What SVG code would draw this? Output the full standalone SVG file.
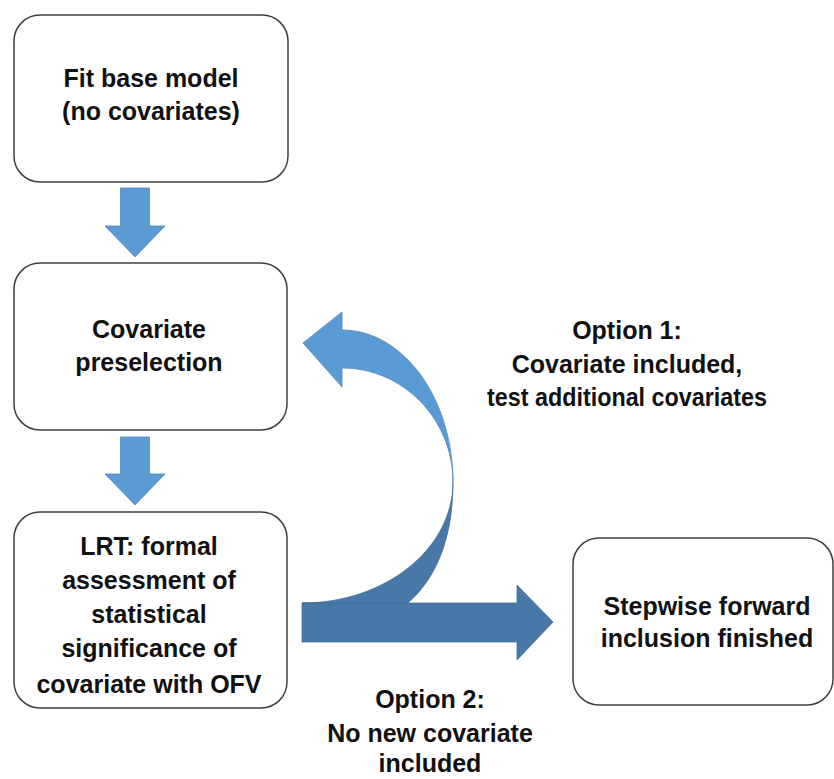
<svg xmlns="http://www.w3.org/2000/svg" width="834" height="779" viewBox="0 0 834 779">
  <style>
    .box { fill: #ffffff; stroke: #404040; stroke-width: 1.5; }
    .t { font-family: "Liberation Sans", Arial, sans-serif; font-weight: bold; font-size: 25px; fill: #111111; text-anchor: middle; }
    .light { fill: #5B9BD5; stroke: #5289C0; stroke-width: 0.8; }
    .dark { fill: #4878A8; stroke: #44709C; stroke-width: 0.8; }
  </style>
  <rect width="834" height="779" fill="#ffffff"/>

  <g id="connectors">
    <path id="arrow-1-2" class="light" d="M120.5,188 L149.5,188 L149.5,226 L165,226 L135,257 L105,226 L120.5,226 Z"/>
    <path id="arrow-2-3" class="light" d="M120.5,437 L149.5,437 L149.5,474 L165,474 L135,505 L105,474 L120.5,474 Z"/>
    <path id="arrow-3-4" class="dark" d="M302,603 L517,603 L517,585 L553,622 L517,660 L517,642 L302,642 Z"/>
    <path id="loop-lower" class="dark" d="M453,482 C453,549 385,603 302,603 L408,603 C432,582 453,545 453,482 Z"/>
    <path id="loop-upper" class="light" d="M342,330 L342,312 L303,343 L342,387 L342,368 C403,368 453,419 453,482 C453,398 403,330 342,330 Z"/>
  </g>

  <g id="node-base">
    <rect class="box" x="14" y="15" width="274" height="167" rx="26"/>
    <text class="t" x="151" y="87">Fit base model</text>
    <text class="t" x="151" y="120">(no covariates)</text>
  </g>

  <g id="node-preselection">
    <rect class="box" x="14" y="263" width="273" height="167" rx="26"/>
    <text class="t" x="149" y="338">Covariate</text>
    <text class="t" x="149" y="371">preselection</text>
  </g>

  <g id="node-lrt">
    <rect class="box" x="14" y="512" width="273" height="196" rx="26"/>
    <text class="t" x="149" y="555">LRT: formal</text>
    <text class="t" x="149" y="589">assessment of</text>
    <text class="t" x="149" y="623">statistical</text>
    <text class="t" x="149" y="657">significance of</text>
    <text class="t" x="149" y="693">covariate with OFV</text>
  </g>

  <g id="node-finished">
    <rect class="box" x="573" y="538" width="260" height="167" rx="26"/>
    <text class="t" x="707" y="615">Stepwise forward</text>
    <text class="t" x="707" y="647">inclusion finished</text>
  </g>

  <g id="labels">
    <text class="t" x="627" y="339">Option 1:</text>
    <text class="t" x="627" y="373">Covariate included,</text>
    <text class="t" x="627" y="406" textLength="280" lengthAdjust="spacingAndGlyphs">test additional covariates</text>
    <text class="t" x="430" y="708">Option 2:</text>
    <text class="t" x="430" y="742">No new covariate</text>
    <text class="t" x="430" y="772">included</text>
  </g>
</svg>
